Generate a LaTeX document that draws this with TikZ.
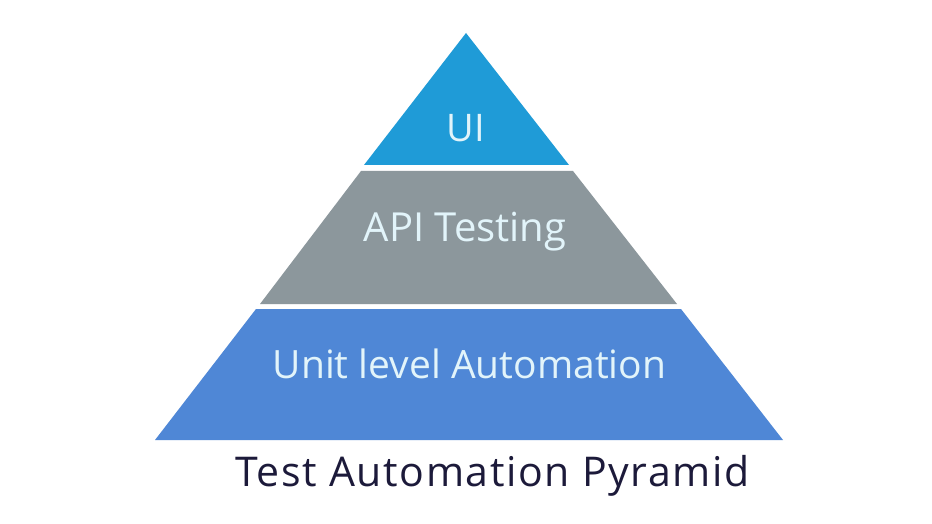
\documentclass[tikz,border=0pt]{standalone}
\usepackage{fontspec}
\setmainfont{Open Sans}
\newfontfamily\titlefont[LetterSpace=4]{Open Sans}
\definecolor{uiblue}{HTML}{1F9BD7}
\definecolor{apigray}{HTML}{8C979C}
\definecolor{unitblue}{HTML}{4F87D6}
\definecolor{bandtext}{HTML}{E2F4FA}
\definecolor{titlecol}{HTML}{1C1A3A}
\begin{document}
\begin{tikzpicture}[x=1pt,y=-1pt,
  bandlabel/.style={text=bandtext,font=\fontsize{39}{46}\selectfont,inner sep=0pt,anchor=base},
  titlelabel/.style={text=titlecol,font=\titlefont\fontsize{41}{48}\selectfont,inner sep=0pt,anchor=base}]
\fill[white] (0,0) rectangle (932,524);
\useasboundingbox (0,0) rectangle (932,524);
% bands
\fill[uiblue] (466,33) -- (569,165) -- (364,165) -- cycle;
\fill[apigray] (361,171) -- (573,171) -- (677,304) -- (260,304) -- cycle;
\fill[unitblue] (256,309) -- (681,309) -- (783,440) -- (155,440) -- cycle;
% labels
\node[bandlabel,font=\fontsize{38}{44}\selectfont] (ui) at (466,142) {UI};
\node[bandlabel,font=\fontsize{40}{46}\selectfont] (api) at (465,241) {API Testing};
\node[bandlabel] (unit) at (469.5,378) {Unit level Automation};
\node[titlelabel] (title) at (492.5,486) {Test Automation Pyramid};
\end{tikzpicture}
\end{document}
